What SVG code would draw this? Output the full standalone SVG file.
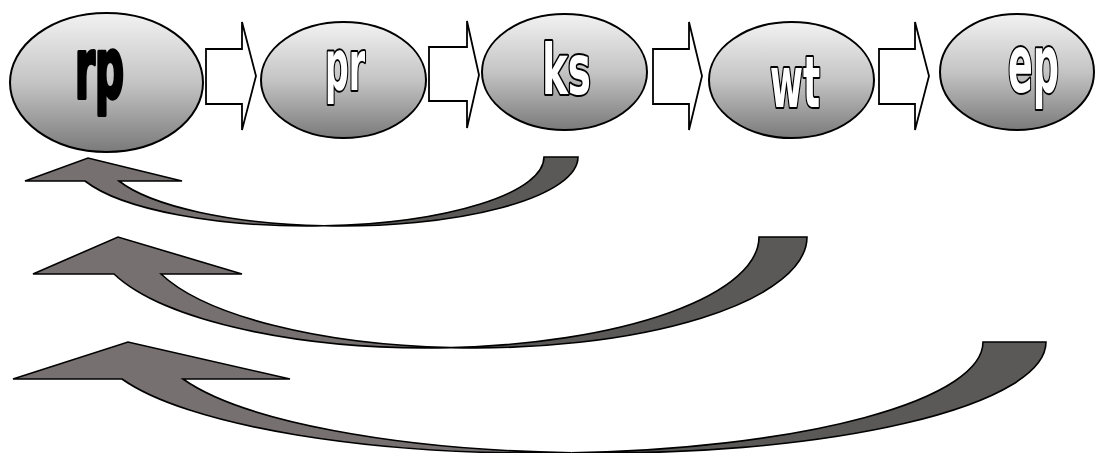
<svg xmlns="http://www.w3.org/2000/svg" width="1096" height="453" viewBox="0 0 1096 453">
<defs>
<linearGradient id="g" x1="0" y1="0" x2="0" y2="1">
<stop offset="0" stop-color="#f2f2f2"/>
<stop offset="0.5" stop-color="#c4c4c4"/>
<stop offset="1" stop-color="#7a7a7a"/>
</linearGradient>
</defs>
<style>
.node{fill:url(#g);stroke:#000;stroke-width:2}
.lbl{font-family:"DejaVu Sans Condensed","DejaVu Sans",sans-serif;font-weight:bold;fill:#fff;stroke:#000;stroke-width:4;stroke-linejoin:round;paint-order:stroke;text-anchor:middle}
.lbl.dark{fill:#000}
.blk{fill:#fff;stroke:#000;stroke-width:1.8;stroke-linejoin:miter}
.front{fill:#767170;stroke:#000;stroke-width:1.6;stroke-linejoin:miter}
.back{fill:#5a5957;stroke:#000;stroke-width:1.6;stroke-linejoin:miter}
</style>
<rect width="1096" height="453" fill="#fff"/>
<g id="connectors">
<polygon class="blk" points="206,49 242,49 242,22 256,76 242,130 242,104 206,104"/>
<polygon class="blk" points="429,47 467,47 467,21 479,75 467,128 467,101 429,101"/>
<polygon class="blk" points="653,49 689,49 689,22 702,76 689,130 689,104 653,104"/>
<polygon class="blk" points="879,49 915,49 915,22 929,76 915,130 915,104 879,104"/>
<path class="back" d="M544,157 L578,157 A237,69 0 0 1 324,225.8 A237,69 0 0 0 544,157 Z"/>
<path class="front" d="M25,181 L88,158 L182,181 L119,181 A237,69 0 0 0 324,225.8 A237,69 0 0 1 85,181 Z"/>
<path class="back" d="M759,237 L807,237 A332,111 0 0 1 451,347.6 A332,111 0 0 0 759,237 Z"/>
<path class="front" d="M33,274 L118,237 L242,274 L161,274 A332,111 0 0 0 451,347.6 A332,111 0 0 1 114,274 Z"/>
<path class="back" d="M983,342 L1046,342 A443,111 0 0 1 571.5,452.8 A443,111 0 0 0 983,342 Z"/>
<path class="front" d="M13,379 L128,342 L290,379 L183,379 A443,111 0 0 0 571.5,452.8 A443,111 0 0 1 122,379 Z"/>
</g>
<g id="rp">
<ellipse class="node" cx="106.5" cy="82.5" rx="96.5" ry="69.5"/>
<text class="lbl dark" x="99.5" y="98" font-size="84" textLength="49" lengthAdjust="spacingAndGlyphs">rp</text>
</g>
<g id="pr">
<ellipse class="node" cx="343.5" cy="80" rx="82.5" ry="58"/>
<text class="lbl" x="345" y="90" font-size="69" textLength="40" lengthAdjust="spacingAndGlyphs">pr</text>
</g>
<g id="ks">
<ellipse class="node" cx="564.5" cy="72" rx="82.5" ry="58"/>
<text class="lbl" x="566.5" y="94" font-size="69" textLength="49" lengthAdjust="spacingAndGlyphs">ks</text>
</g>
<g id="wt">
<ellipse class="node" cx="791.5" cy="80" rx="82.5" ry="58"/>
<text class="lbl" x="795" y="107" font-size="71" textLength="50" lengthAdjust="spacingAndGlyphs">wt</text>
</g>
<g id="ep">
<ellipse class="node" cx="1017" cy="72" rx="77" ry="58"/>
<text class="lbl" x="1033.5" y="92" font-size="80" textLength="51" lengthAdjust="spacingAndGlyphs">ep</text>
</g>
</svg>
